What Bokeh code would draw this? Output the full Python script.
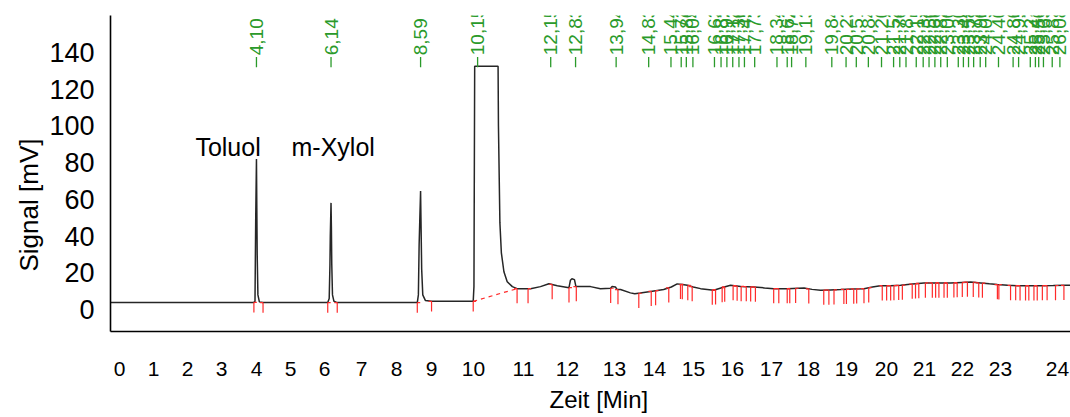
import numpy as np
from bokeh.plotting import figure
from bokeh.models import Range1d, LinearAxis, FixedTicker, ColumnDataSource, Title
from bokeh.core.properties import value
from bokeh.embed import file_html
from bokeh.resources import INLINE

# Detector trace: retention time [min] and signal [mV]
SIGNAL_T = [
    0.00, 4.02, 4.06, 4.07, 4.08, 4.10, 4.11, 4.12, 4.14, 4.18, 4.28,
    6.05, 6.09, 6.11, 6.12, 6.14, 6.15, 6.16, 6.18, 6.22, 6.31,
    8.50, 8.53, 8.55, 8.57, 8.59, 8.60, 8.62, 8.65, 8.72, 8.89,
    10.03, 10.05, 10.07, 10.71, 10.72, 10.76, 10.80, 10.87, 10.96, 11.10,
    11.23, 11.60, 11.87, 12.10, 12.33, 12.65, 12.69, 12.73, 12.80, 12.84,
    13.24, 13.51, 13.79, 13.83, 13.92, 13.97, 14.06, 14.33, 14.45, 14.60,
    14.79, 15.02, 15.24, 15.45, 15.61, 15.75, 15.89, 16.05, 16.25, 16.61,
    16.85, 17.07, 17.35, 17.71, 18.00, 18.25, 18.62, 19.08, 19.30, 19.53,
    19.80, 20.08, 20.40, 20.72, 20.95, 21.17, 21.45, 21.72, 22.05, 22.36,
    22.70, 23.09, 23.40, 23.64, 23.91, 24.15, 24.37, 24.65, 24.91, 25.25,
    25.55, 25.90, 26.23, 26.40,
]
SIGNAL_MV = [
    3.8, 3.8, 4.5, 28.0, 50.0, 82.0, 55.0, 30.0, 8.0, 4.2, 3.8,
    3.8, 6.0, 24.0, 40.0, 58.1, 45.0, 25.0, 8.0, 4.5, 3.8,
    3.8, 8.0, 35.0, 50.0, 64.6, 50.0, 22.0, 8.0, 5.0, 4.5,
    4.5, 12.5, 132.5, 132.5, 100.4, 47.2, 30.9, 20.6, 15.2, 12.5,
    11.4, 11.4, 12.5, 14.1, 13.0, 11.9, 16.0, 16.8, 16.3, 12.5,
    12.5, 11.4, 11.6, 12.6, 12.3, 10.9, 10.9, 9.1, 8.6, 9.0,
    9.6, 10.3, 10.9, 12.3, 14.0, 13.6, 13.2, 12.3, 11.4, 10.5,
    12.0, 13.2, 12.6, 12.3, 11.8, 11.4, 11.4, 11.8, 11.0, 10.5,
    10.7, 10.9, 11.2, 11.4, 12.3, 13.0, 13.0, 13.2, 13.9, 14.5,
    14.5, 14.5, 14.8, 15.0, 14.5, 14.0, 13.6, 13.2, 13.0, 13.0,
    13.0, 13.1, 13.2, 13.2,
]

# Retention times of the integrated peaks [min]
PEAK_RT = [
    4.10, 6.14, 8.59, 10.15, 12.15, 12.83, 13.94, 14.83, 15.44, 15.72,
    15.86, 16.04, 16.63, 16.81, 16.97, 17.13, 17.30, 17.45, 17.73, 18.34,
    18.62, 18.74, 19.13, 19.84, 20.23, 20.51, 20.84, 21.20, 21.53, 21.70,
    21.87, 22.15, 22.34, 22.50, 22.66, 22.82, 23.00, 23.30, 23.44, 23.58,
    23.72, 23.90, 24.05, 24.40, 24.80, 24.95, 25.27, 25.41, 25.50, 25.63,
    25.87, 26.08,
]

# Integration limits (peak start / peak end) [min]
MARK_T = [
    4.03, 4.28, 6.05, 6.31, 8.50, 8.89, 10.03, 11.23, 11.53, 12.19,
    12.65, 12.85, 13.79, 13.99, 14.56, 14.90, 15.02, 15.38, 15.70, 15.75,
    15.90, 16.02, 16.57, 16.66, 16.84, 16.91, 17.14, 17.25, 17.36, 17.50,
    17.62, 17.75, 18.25, 18.39, 18.62, 18.69, 18.85, 19.21, 19.62, 19.76,
    19.90, 20.17, 20.24, 20.44, 20.52, 20.72, 20.85, 21.22, 21.34, 21.45,
    21.54, 21.67, 21.77, 22.04, 22.13, 22.22, 22.40, 22.59, 22.68, 22.77,
    22.91, 23.00, 23.18, 23.27, 23.41, 23.55, 23.71, 23.86, 23.96, 24.37,
    24.41, 24.73, 24.87, 24.99, 25.14, 25.23, 25.37, 25.46, 25.60, 25.73,
    25.96, 26.19,
]

# Dropped baseline under the solvent peak
SOLVENT_BASE_T = [10.03, 11.23]
SOLVENT_BASE_MV = [4.5, 11.4]

# Compound names
NAMES = ["Toluol", "m-Xylol"]

Y_TICKS = [0, 20, 40, 60, 80, 100, 120, 140]
X_TICK_LABELS = [str(i) for i in range(25)]

# --- layout ---------------------------------------------------------------
NAME_X = [2.43, 5.06]          # left edge of the compound names [min]
NAME_Y = 88.5                  # text baseline of the compound names [mV]
RT_LABEL_Y = 132.0             # foot of the retention-time labels [mV]
FOOT = 0.08                    # width of the integration marks' feet [min]
# screen slots (px) of the time labels along the lower axis
X_LABEL_POS = [119, 153, 187, 221, 256, 290, 324, 361, 396, 431, 473, 523,
               567, 614, 654, 693, 732, 771, 808, 846, 886, 924, 962, 1000,
               1057]

FONT = "Liberation Sans"
GREEN = "#2a9a2a"
RED = "#ff2a2a"

p = figure(
    width=1070, height=417,
    x_range=Range1d(0.107, 26.37), y_range=Range1d(-11.94, 160.15),
    output_backend="svg", toolbar_location=None,
    min_border_left=110, min_border_right=0,
    min_border_top=15, min_border_bottom=85,
)
p.outline_line_color = None
p.xgrid.grid_line_color = None
p.ygrid.grid_line_color = None
p.xaxis.visible = False

# vertical axis
ya = p.yaxis[0]
ya.ticker = FixedTicker(ticks=Y_TICKS)
ya.major_tick_line_color = None
ya.minor_tick_line_color = None
ya.axis_line_color = "black"
ya.axis_line_width = 1.6
ya.major_label_text_font = FONT
ya.major_label_text_font_size = "27px"
ya.major_label_text_color = "black"
ya.major_label_standoff = 10

# time axis with its labels
p.extra_x_ranges = {"slots": Range1d(110, 1070)}
xa = LinearAxis(
    x_range_name="slots",
    ticker=FixedTicker(ticks=X_LABEL_POS),
    major_label_overrides={pos: lbl for pos, lbl in zip(X_LABEL_POS, X_TICK_LABELS)},
)
xa.major_tick_line_color = None
xa.minor_tick_line_color = None
xa.axis_line_color = "black"
xa.axis_line_width = 1.6
xa.major_label_text_font = FONT
xa.major_label_text_font_size = "21px"
xa.major_label_text_color = "black"
xa.major_label_standoff = 24
p.add_layout(xa, "below")

# axis titles
p.add_layout(Title(text="Signal [mV]", align="left", offset=60,
                   text_font=FONT, text_font_size="26px",
                   text_font_style="normal", text_color="black",
                   standoff=6), "left")
p.add_layout(Title(text="Zeit [Min]", align="left", offset=439,
                   text_font=FONT, text_font_size="24px",
                   text_font_style="normal", text_color="black",
                   standoff=10), "below")

# detector trace
p.line(SIGNAL_T, SIGNAL_MV, line_color="#262626", line_width=1.5)

# dropped baseline under the solvent peak
p.line(SOLVENT_BASE_T, SOLVENT_BASE_MV, line_color=RED, line_width=1.2,
       line_dash="4 4")

# integration marks hanging from the trace
mark_t = np.array(MARK_T)
mark_top = np.interp(mark_t, SIGNAL_T, SIGNAL_MV)
depth = np.where(mark_t < 11.0, 5.5, 8.0)
side = np.where(np.arange(len(mark_t)) % 2 == 0, 1.0, -1.0)
p.segment(x0=mark_t, y0=mark_top, x1=mark_t, y1=mark_top - depth,
          line_color=RED, line_width=1.2)
p.segment(x0=mark_t, y0=mark_top, x1=mark_t + side * FOOT, y1=mark_top,
          line_color=RED, line_width=1.2)

# retention-time labels
rt = np.array(PEAK_RT)
rt_src = ColumnDataSource(dict(
    x=rt,
    y0=np.full(len(rt), RT_LABEL_Y),
    y1=np.full(len(rt), RT_LABEL_Y + 5.5),
    ty=np.full(len(rt), RT_LABEL_Y + 6.5),
    txt=[f"{v:.2f}".replace(".", ",") for v in PEAK_RT],
))
p.segment(x0="x", y0="y0", x1="x", y1="y1", source=rt_src,
          line_color=GREEN, line_width=1.3)
p.text(x="x", y="ty", text="txt", source=rt_src, angle=np.pi / 2,
       text_align="left", text_baseline="middle", text_color=GREEN,
       text_font=value(FONT), text_font_size="19px")

# compound names
p.text(x=NAME_X, y=[NAME_Y] * len(NAMES), text=NAMES,
       text_align="left", text_baseline="alphabetic", text_color="black",
       text_font=value(FONT), text_font_size="25px")

open("out.html", "w").write(file_html(p, INLINE))
